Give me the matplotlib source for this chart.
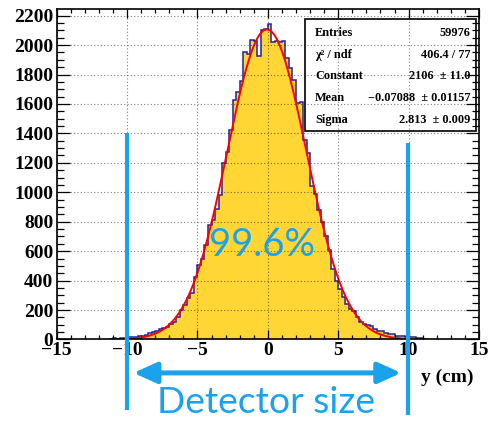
import matplotlib
matplotlib.use('Agg')
import matplotlib.pyplot as plt
import numpy as np
from matplotlib.patches import Rectangle
from matplotlib.ticker import MultipleLocator

# histogram: 0.25 cm bins, first bin starts at -11.25 cm
bin_start = -11.25
bin_width = 0.25
counts = [
    3, 8, 6, 12, 10, 14, 15, 17, 21, 26,
    33, 42, 52, 60, 69, 78, 88, 103, 121, 151,
    200, 234, 280, 318, 427, 506, 545, 642, 777, 811,
    886, 981, 1196, 1275, 1420, 1626, 1678, 1755, 1954, 1936,
    2034, 2030, 1927, 2100, 2110,
    2145, 2020, 2030, 2020, 2030, 1909, 1841, 1762, 1604, 1610,
    1355, 1268, 1040, 990, 880, 800, 700, 608, 480, 400,
    341, 290, 240, 205, 195, 151, 121, 105, 98, 90,
    71, 60, 55, 42, 40, 35, 26, 24, 22, 18,
    15, 14, 12, 8, 5,
]

# gaussian fit result
fit_const = 2106
fit_mean = -0.07088
fit_sigma = 2.813
fit_range = (-10, 10)

stat_names = ['Entries', '\u03c7\u00b2 / ndf', 'Constant', 'Mean', 'Sigma']
stat_values = ['59976', '406.4 / 77', '2106  \u00b1 11.0',
               '\u22120.07088  \u00b1 0.01157', '2.813  \u00b1 0.009']

acceptance_text = '99.6%'
detector_edges = (-10, 10)

serif = ['Liberation Serif', 'DejaVu Serif']
light = ['Lato', 'DejaVu Sans']
cyan = '#1aa3ec'

fig = plt.figure(figsize=(4.88, 4.21), dpi=100)
ax = fig.add_axes([0.1161, 0.1936, 0.8655, 0.785])

counts = np.array(counts, dtype=float)
edges = bin_start + bin_width * np.arange(len(counts) + 1)
ax.stairs(counts, edges, fill=True, color='#ffd633', zorder=1)
ax.stairs(counts, edges, color='#2222a0', lw=1.1, zorder=2)

xf = np.linspace(fit_range[0], fit_range[1], 400)
yf = fit_const * np.exp(-0.5 * ((xf - fit_mean) / fit_sigma) ** 2)
ax.plot(xf, yf, color='red', lw=1.4, zorder=2.1)

ax.set_xlim(-15, 15)
ax.set_ylim(0, 2245)
ax.xaxis.set_major_locator(MultipleLocator(5))
ax.xaxis.set_minor_locator(MultipleLocator(1))
ax.yaxis.set_major_locator(MultipleLocator(200))
ax.yaxis.set_minor_locator(MultipleLocator(50))
ax.tick_params(which='both', direction='in', top=True, right=True, width=0.9)
ax.tick_params(axis='y', which='major', length=9.4, pad=2.5)
ax.tick_params(axis='y', which='minor', length=4.7)
ax.tick_params(axis='x', which='major', length=6.5, pad=2)
ax.tick_params(axis='x', which='minor', length=3.2)
for lab in ax.get_xticklabels() + ax.get_yticklabels():
    lab.set_family(serif)
    lab.set_fontweight('bold')
    lab.set_fontsize(14)
for s in ax.spines.values():
    s.set_linewidth(1.2)

ax.set_axisbelow(False)
ax.grid(True, which='major', color='black', alpha=0.5, lw=0.8, linestyle=(0, (1, 2)))

# stats box
ax.add_patch(Rectangle((0.588, 0.631), 0.405, 0.339, transform=ax.transAxes,
                       facecolor='white', edgecolor='black', lw=1.2, zorder=2.2))
rows = [0.927, 0.861, 0.797, 0.731, 0.664]
for name, val, yy in zip(stat_names, stat_values, rows):
    ax.text(0.612, yy, name, transform=ax.transAxes, ha='left', va='center',
            family=serif, fontweight='bold', fontsize=8.8, zorder=3)
    ax.text(0.980, yy, val, transform=ax.transAxes, ha='right', va='center',
            family=serif, fontweight='bold', fontsize=8.8, zorder=3)

ax.text(0.988, -0.116, 'y (cm)', transform=ax.transAxes, ha='right', va='center',
        family=serif, fontweight='bold', fontsize=14)

# detector acceptance annotation
ax.text(-0.42, 641, acceptance_text, ha='center', va='center', color=cyan,
        family=light, fontweight='normal', fontsize=27.5, zorder=4)
ax.plot([detector_edges[0]] * 2, [1401, -478], color=cyan, lw=3, clip_on=False, zorder=5,
        solid_capstyle='butt')
ax.plot([detector_edges[1] - 0.07] * 2, [1333, -512], color=cyan, lw=3, clip_on=False, zorder=5,
        solid_capstyle='butt')
ax.annotate('', xy=(-9.55, -227), xytext=(9.48, -227), annotation_clip=False,
            arrowprops=dict(arrowstyle='<|-|>,head_length=1.0,head_width=0.45',
                            mutation_scale=14, lw=3.6, color=cyan, shrinkA=0, shrinkB=0))
ax.text(-0.14, -431, 'Detector size', ha='center', va='center', color=cyan,
        family=light, fontweight='normal', fontsize=26.8, clip_on=False)

fig.savefig('out.png', dpi=100)
